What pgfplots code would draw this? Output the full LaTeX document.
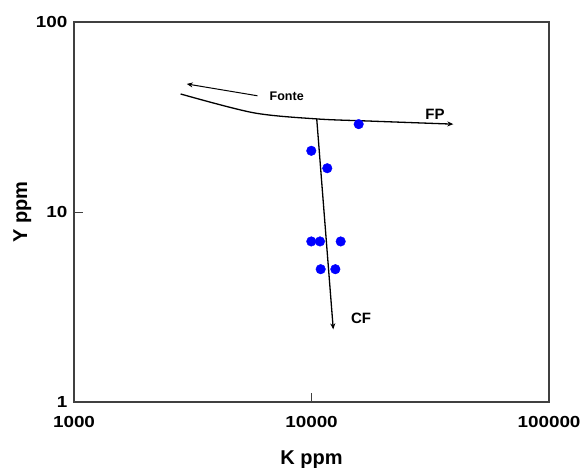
\documentclass[border=0pt]{standalone}
\usepackage{pgfplots}
\pgfplotsset{compat=1.18}
\usepackage{fontspec}
\setmainfont{Liberation Sans}
\newfontfamily\tickfont{Liberation Sans}[FakeStretch=1.18]
\usetikzlibrary{arrows.meta}
\begin{document}
\begin{tikzpicture}
\begin{loglogaxis}[
  scale only axis, width=475pt, height=380pt,
  xmin=1000, xmax=100000, ymin=1, ymax=100,
  xtick={1000,10000,100000}, xticklabels={1000,10000,100000},
  ytick={1,10,100}, yticklabels={1,10,100},
  xminorticks=false, yminorticks=false,
  tick pos=left, tick align=inside,
  major tick length=9pt,
  tick style={black!75, line width=1pt},
  axis line style={black!75, line width=1.2pt},
  tick label style={font=\tickfont\fontsize{16}{16}\selectfont\bfseries},
  xticklabel style={yshift=-11pt},
  yticklabel style={xshift=-3pt},
  xlabel={K ppm}, ylabel={Y ppm},
  label style={font=\fontsize{20}{20}\selectfont\bfseries},
  xlabel style={at={(axis description cs:0.5,0)}, anchor=base, yshift=-62pt},
  ylabel style={at={([xshift=-47pt]axis description cs:0,0.5)}, anchor=base},
  clip=false,
]
% FP trend
\addplot[black, line width=1.3pt, smooth, -{Stealth[length=6pt,width=5pt]}] coordinates {
  (2812,41.8) (5690,33.3) (10520,30.9) (17630,30.1) (39550,29.0)};
% CF trend
\addplot[black, line width=1.3pt, -{Stealth[length=6pt,width=5pt]}] coordinates {
  (10520,30.9) (12350,2.41)};
% Fonte arrow
\addplot[black, line width=1pt, -{Stealth[length=6pt,width=5pt]}] coordinates {
  (5920,40.9) (2983,47.2)};
% samples
\addplot[only marks, mark=*, mark size=4.8pt, blue, mark options={fill=blue, draw=blue}] coordinates {
  (15800,29.0) (9980,21.0) (11650,17.0) (9980,7.0) (10860,7.0) (13270,7.0) (10930,5.0) (12600,5.0)};
\node[font=\fontsize{12.5}{12.5}\selectfont\bfseries] at (axis cs:7865,40.5) {Fonte};
\node[font=\fontsize{15}{15}\selectfont\bfseries] at (axis cs:33100,32.8) {FP};
\node[font=\fontsize{15}{15}\selectfont\bfseries] at (axis cs:16160,2.77) {CF};
\end{loglogaxis}
\pgfresetboundingbox
\path (current axis.south west) ++(-74pt,-65pt) rectangle ++(584pt,467pt);
\end{tikzpicture}
\end{document}
